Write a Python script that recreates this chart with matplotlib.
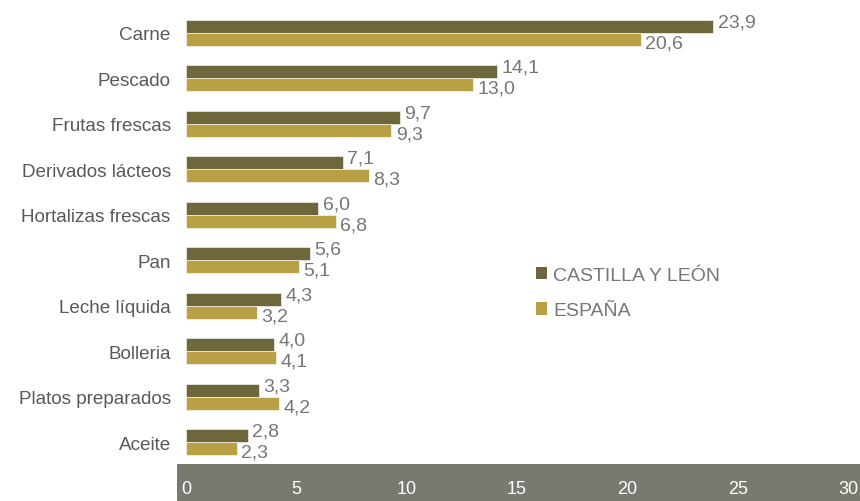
import matplotlib.pyplot as plt
from matplotlib.patches import Patch, Rectangle
import numpy as np

plt.rcParams["font.family"] = ["Liberation Sans", "DejaVu Sans"]

categories = ["Carne", "Pescado", "Frutas frescas", "Derivados lácteos", "Hortalizas frescas",
              "Pan", "Leche líquida", "Bolleria", "Platos preparados", "Aceite"]
castilla = [23.9, 14.1, 9.7, 7.1, 6.0, 5.6, 4.3, 4.0, 3.3, 2.8]
espana = [20.6, 13.0, 9.3, 8.3, 6.8, 5.1, 3.2, 4.1, 4.2, 2.3]
xticks = [0, 5, 10, 15, 20, 25, 30]

C_CYL = "#6e673b"
C_ESP = "#b9a044"
TXT = "#595959"
TXT_LIGHT = "#767676"

fig = plt.figure(figsize=(8.6, 5.02), dpi=100)
ax = fig.add_axes([186 / 860, 1 - 466 / 502, (848 - 186) / 860, (466 - 11) / 502])
ax.set_zorder(2)
ax.patch.set_visible(False)

# grey band behind the x tick labels
fig.patches.append(Rectangle((177 / 860, 0), 1 - 177 / 860, 37 / 502,
                             transform=fig.transFigure, facecolor="#797970",
                             edgecolor="none", zorder=0))

y = np.arange(len(categories))
h = 0.285
ax.barh(y - h / 2, castilla, height=h, color=C_CYL, edgecolor="white", linewidth=0.4)
ax.barh(y + h / 2, espana, height=h, color=C_ESP, edgecolor="white", linewidth=0.4)

for yi, v in zip(y, castilla):
    ax.text(v + 0.2, yi - h / 2 - 0.1, f"{v:.1f}".replace(".", ","),
            va="center", ha="left", fontsize=14, color=TXT_LIGHT)
for yi, v in zip(y, espana):
    ax.text(v + 0.2, yi + h / 2 + 0.08, f"{v:.1f}".replace(".", ","),
            va="center", ha="left", fontsize=14, color=TXT_LIGHT)

ax.set_xlim(0, 30)
ax.set_ylim(len(categories) - 0.5, -0.5)
ax.set_yticks(y)
ax.set_yticklabels(categories, fontsize=13.6, color=TXT)
ax.set_xticks(xticks)
ax.set_xticklabels([str(t) for t in xticks], fontsize=13, color="white")
ax.tick_params(axis="both", length=0)
ax.tick_params(axis="x", pad=11)
ax.tick_params(axis="y", pad=11)
for s in ax.spines.values():
    s.set_visible(False)

handles = [Patch(facecolor=C_CYL, label="CASTILLA Y LEÓN"),
           Patch(facecolor=C_ESP, label="ESPAÑA")]
leg = fig.legend(handles=handles, loc="upper left", bbox_to_anchor=(526 / 860, 1 - 258 / 502),
                 frameon=False, fontsize=14, handlelength=0.6, handleheight=0.6,
                 handletextpad=0.3, labelspacing=0.95, borderpad=0)
for t in leg.get_texts():
    t.set_color(TXT_LIGHT)

fig.savefig("out.png", dpi=100)
